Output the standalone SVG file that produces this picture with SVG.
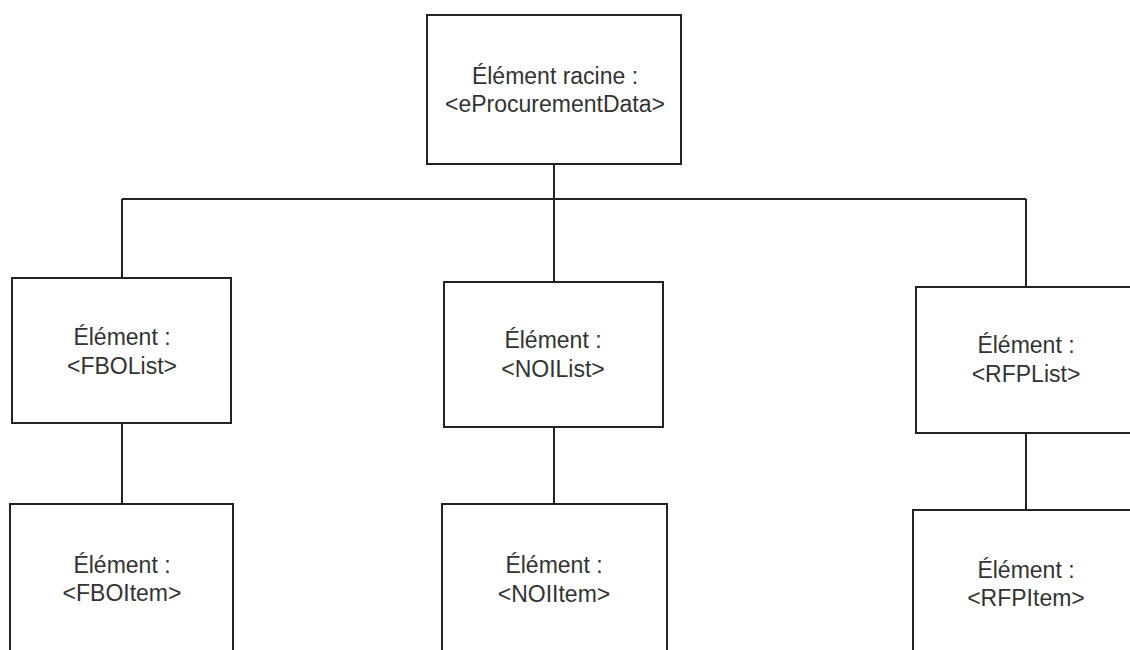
<svg xmlns="http://www.w3.org/2000/svg" width="1130" height="650" viewBox="0 0 1130 650">
<style>
.box{fill:#fff;stroke:#222;stroke-width:2}
.lbl{font-family:"Liberation Sans",Arial,sans-serif;font-size:23px;fill:#333;text-anchor:middle}
.conn{fill:none;stroke:#222;stroke-width:2}
</style>
<rect width="1130" height="650" fill="#fff"/>
<g id="connectors">
<line class="conn" x1="554" y1="164" x2="554" y2="282"/>
<line class="conn" x1="122" y1="199" x2="1026" y2="199"/>
<line class="conn" x1="122" y1="199" x2="122" y2="278"/>
<line class="conn" x1="1026" y1="199" x2="1026" y2="287"/>
<line class="conn" x1="122" y1="423" x2="122" y2="504"/>
<line class="conn" x1="554" y1="427" x2="554" y2="504"/>
<line class="conn" x1="1026" y1="433" x2="1026" y2="510"/>
</g>
<g id="root">
<rect class="box" x="427" y="15" width="254" height="149"/>
<text class="lbl" x="555" y="84">Élément racine :</text>
<text class="lbl" x="555" y="112">&lt;eProcurementData&gt;</text>
</g>
<g id="fbolist">
<rect class="box" x="12" y="278" width="219" height="145"/>
<text class="lbl" x="122" y="345">Élément :</text>
<text class="lbl" x="122" y="374">&lt;FBOList&gt;</text>
</g>
<g id="noilist">
<rect class="box" x="444" y="282" width="219" height="145"/>
<text class="lbl" x="553" y="348">Élément :</text>
<text class="lbl" x="553" y="377">&lt;NOIList&gt;</text>
</g>
<g id="rfplist">
<rect class="box" x="916" y="287" width="230" height="146"/>
<text class="lbl" x="1026" y="353">Élément :</text>
<text class="lbl" x="1026" y="382">&lt;RFPList&gt;</text>
</g>
<g id="fboitem">
<rect class="box" x="10" y="504" width="223" height="160"/>
<text class="lbl" x="122" y="573">Élément :</text>
<text class="lbl" x="122" y="601">&lt;FBOItem&gt;</text>
</g>
<g id="noiitem">
<rect class="box" x="442" y="504" width="225" height="160"/>
<text class="lbl" x="554" y="573">Élément :</text>
<text class="lbl" x="554" y="602">&lt;NOIItem&gt;</text>
</g>
<g id="rfpitem">
<rect class="box" x="913" y="510" width="233" height="160"/>
<text class="lbl" x="1026" y="578">Élément :</text>
<text class="lbl" x="1026" y="606">&lt;RFPItem&gt;</text>
</g>
</svg>
